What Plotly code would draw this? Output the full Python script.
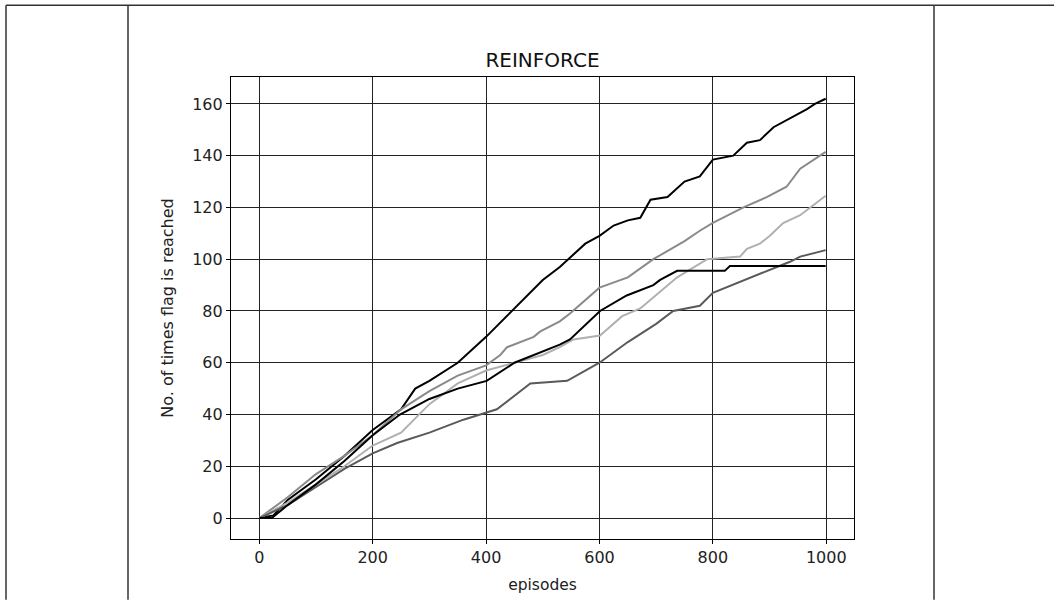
import plotly.graph_objects as go

# ---- data (episode, cumulative flag count) ----
ep_a = [0, 25, 50, 100, 150, 200, 250, 275, 300, 350, 400, 450, 500, 530, 550, 575, 600, 625, 650, 672, 690, 720, 750, 777, 800, 836, 860, 883, 907, 942, 966, 980, 999]
val_a = [0, 1, 7, 15, 24, 34, 42, 50, 53, 60, 70, 81, 92, 97, 101, 106, 109, 113, 115, 116, 123, 124, 130, 132, 138.5, 140, 145, 146, 151, 155, 158, 160, 162]

ep_b = [0, 50, 100, 150, 200, 250, 300, 350, 400, 425, 437, 484, 495, 530, 548, 600, 650, 695, 750, 777, 800, 854, 895, 930, 954, 999]
val_b = [0, 8, 17, 24, 32, 42, 49, 55, 59, 63, 66, 70, 72, 76, 79, 89, 93, 100, 107, 111, 114, 120, 124, 128, 135, 141.5]

ep_c = [0, 50, 100, 150, 200, 250, 300, 350, 400, 450, 500, 530, 554, 601, 640, 672, 737, 790, 848, 860, 883, 900, 924, 954, 977, 999]
val_c = [0, 6, 13, 20, 28, 33, 44, 52, 57, 60, 63, 66, 69, 70.5, 78, 81, 93, 100, 101, 104, 106, 109, 114, 117, 121, 124.5]

ep_d = [0, 50, 100, 150, 200, 243, 300, 360, 419, 478, 543, 600, 650, 700, 730, 777, 800, 866, 913, 936, 954, 999]
val_d = [0, 5, 12, 19, 25, 29, 33, 38, 42, 52, 53, 60, 68, 75, 80, 82, 87, 93, 97, 99, 101, 103.5]

ep_e = [0, 22, 50, 100, 150, 200, 248, 300, 350, 401, 450, 495, 530, 548, 601, 648, 695, 707, 737, 821, 830, 999]
val_e = [0, 0, 5, 13, 22, 32, 40, 46, 50, 53, 60, 64, 67, 69, 80, 86, 90, 92, 95.5, 95.5, 97.4, 97.4]

series = [
    (ep_a, val_a, "#000000"),
    (ep_b, val_b, "#8a8a8a"),
    (ep_c, val_c, "#b0b0b0"),
    (ep_d, val_d, "#5a5a5a"),
    (ep_e, val_e, "#000000"),
]

x_ticks = [0, 200, 400, 600, 800, 1000]
y_ticks = [0, 20, 40, 60, 80, 100, 120, 140, 160]

fig = go.Figure()
for xs, ys, col in series:
    fig.add_trace(go.Scatter(x=xs, y=ys, mode="lines",
                             line=dict(color=col, width=2), showlegend=False))

FONT = "DejaVu Sans"
fig.update_layout(
    width=1054, height=602,
    margin=dict(l=231, r=200, t=77, b=61),
    paper_bgcolor="white", plot_bgcolor="white",
    font=dict(family=FONT, size=16, color="#222222"),
    title=dict(text="REINFORCE", x=0.5, xref="paper", xanchor="center",
               y=1 - 60 / 602, yref="container", yanchor="middle",
               font=dict(family=FONT, size=20, color="#111111")),
    xaxis=dict(range=[-49.95, 1048.95], tickvals=x_ticks, ticks="outside", ticklen=4,
               tickcolor="#000", showline=True, linecolor="#000", linewidth=1.2, mirror=True,
               showgrid=True, gridcolor="#222222", gridwidth=1.2, zeroline=False,
               title=dict(text="episodes", standoff=12, font=dict(size=15.5))),
    yaxis=dict(range=[-8.1, 170.4], tickvals=y_ticks, ticks="outside", ticklen=4,
               tickcolor="#000", showline=True, linecolor="#000", linewidth=1.2, mirror=True,
               showgrid=True, gridcolor="#222222", gridwidth=1.2, zeroline=False,
               title=dict(text="No. of times flag is reached", standoff=14, font=dict(size=16))),
)

# surrounding table frame lines (paper coordinates relative to plot area)
def px_x(p):
    return (p - 231) / 623.0

def px_y(p):
    return (541 - p) / 464.0

frame = dict(color="#333333", width=1.5)
fig.add_shape(type="line", xref="paper", yref="paper", x0=px_x(6), x1=px_x(1054), y0=px_y(5), y1=px_y(5), line=frame)
for vx in (6, 128, 934):
    fig.add_shape(type="line", xref="paper", yref="paper", x0=px_x(vx), x1=px_x(vx), y0=px_y(5), y1=px_y(602), line=frame)

fig.write_html("out.html", config={"displayModeBar": False},
               post_script="document.body.style.margin='0';document.body.style.overflow='hidden';")
